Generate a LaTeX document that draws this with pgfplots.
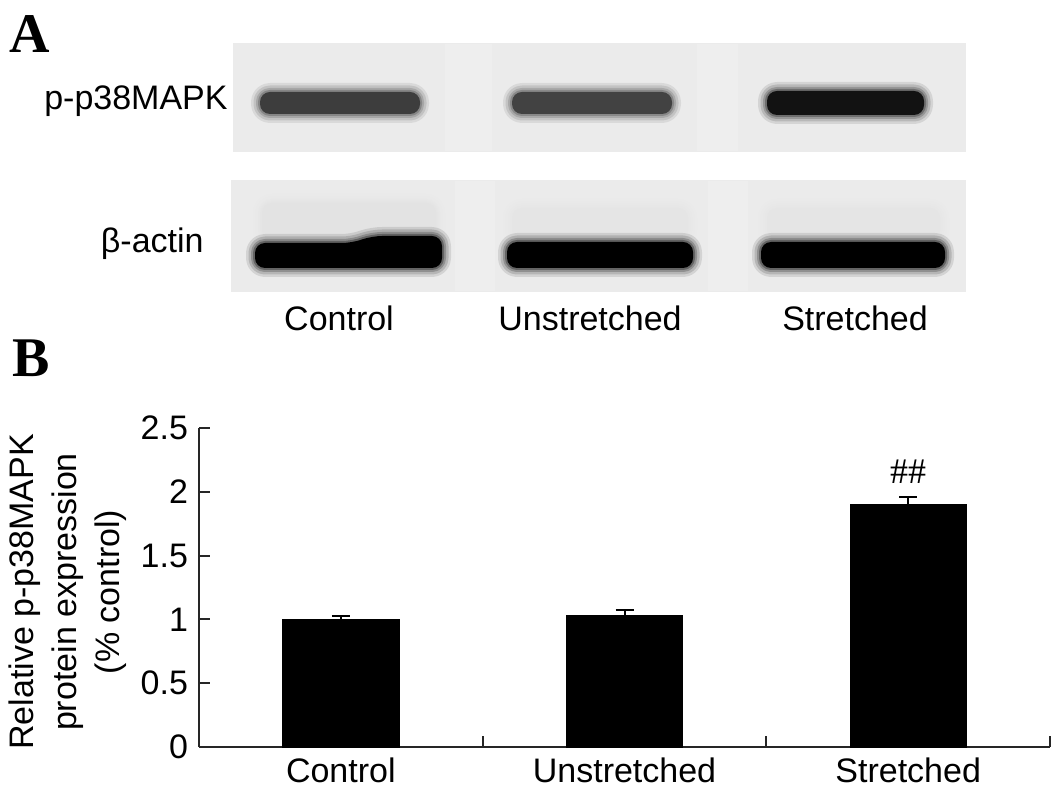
\documentclass[border=0pt]{standalone}
\usepackage{pgfplots}
\pgfplotsset{compat=1.18}
\usepackage{fontspec}
\setmainfont{Liberation Sans}
\newfontfamily\serifb{Liberation Serif}
% soft-edged band: #1 colour, #2 path
\newcommand{\softband}[2]{%
  \draw[#1, opacity=0.10, line width=9pt, rounded corners=5pt, line join=round] #2;
  \draw[#1, opacity=0.14, line width=6.5pt, rounded corners=5pt, line join=round] #2;
  \draw[#1, opacity=0.20, line width=4pt, rounded corners=5pt, line join=round] #2;
  \draw[#1, opacity=0.30, line width=2pt, rounded corners=5pt, line join=round] #2;
  \fill[#1, rounded corners=5pt] #2;}
\newcommand{\rect}[4]{(axis cs:#1,#3) -- (axis cs:#2,#3) -- (axis cs:#2,#4) -- (axis cs:#1,#4) -- cycle}
\begin{document}
\begin{tikzpicture}
\path[use as bounding box] (0,0) rectangle (531.5pt,400.5pt);
% ---- canvas axis (pixel coordinates) for panel A and labels
\begin{axis}[at={(0,0)}, anchor=south west, width=531.5pt, height=400.5pt,
  scale only axis, xmin=0, xmax=1063, ymin=0, ymax=801, y dir=reverse,
  hide axis, clip=false]
% blot backgrounds
\fill[black!8] (axis cs:233,43) rectangle (axis cs:966,152);
\fill[black!8] (axis cs:231,180) rectangle (axis cs:966,292);
\fill[black!6.5] (axis cs:445,44) rectangle (axis cs:492,151);
\fill[black!6.5] (axis cs:697,44) rectangle (axis cs:738,151);
\fill[black!6.5] (axis cs:455,181) rectangle (axis cs:495,291);
\fill[black!6.5] (axis cs:708,181) rectangle (axis cs:748,291);
% faint smear above beta-actin bands
\softband{black!11}{\rect{262}{436}{203}{240}}
\softband{black!10}{\rect{512}{688}{208}{240}}
\softband{black!10}{\rect{767}{940}{208}{240}}
% p-p38MAPK bands
\softband{black!76}{\rect{260}{420}{92}{114}}
\softband{black!74}{\rect{512}{672}{92}{114}}
\softband{black!93}{\rect{767}{924}{91}{115}}
% beta-actin bands
\softband{black}{(axis cs:255,268) -- (axis cs:255,243) -- (axis cs:352,243) -- (axis cs:372,236) -- (axis cs:442,236) -- (axis cs:442,268) -- cycle}
\softband{black}{\rect{507}{693}{242}{268}}
\softband{black}{\rect{761}{945}{242}{268}}
% panel letters
\node[anchor=base west, inner sep=0, font=\serifb\bfseries\fontsize{28}{28}\selectfont] at (axis cs:9,53) {A};
\node[anchor=base west, inner sep=0, font=\serifb\bfseries\fontsize{28}{28}\selectfont] at (axis cs:12,377) {B};
% blot labels
\node[anchor=base east, inner sep=0, font=\fontsize{17}{20}\selectfont] at (axis cs:228,110) {p-p38MAPK};
\node[anchor=base east, inner sep=0, font=\fontsize{17}{20}\selectfont] at (axis cs:204,253) {β-actin};
\node[anchor=base, inner sep=0, font=\fontsize{17}{20}\selectfont] at (axis cs:339,331) {Control};
\node[anchor=base, inner sep=0, font=\fontsize{17}{20}\selectfont] at (axis cs:590,331) {Unstretched};
\node[anchor=base, inner sep=0, font=\fontsize{17}{20}\selectfont] at (axis cs:855,331) {Stretched};
% y label of panel B
\node[rotate=90, align=center, inner sep=0, font=\fontsize{17}{21.5}\selectfont] at (axis cs:68,592)
  {Relative p-p38MAPK\\protein expression\\(\% control)};
\end{axis}
% ---- panel B bar chart
\begin{axis}[at={(99.5pt,27pt)}, anchor=south west, width=425.5pt, height=159.5pt,
  scale only axis, xmin=0, xmax=3, ymin=0, ymax=2.5,
  axis lines=left, axis line style={-, line width=1pt, black!85},
  tick align=inside, major tick length=5.5pt,
  every tick/.style={line width=1pt, black!85},
  ytick={0,0.5,1,1.5,2,2.5}, yticklabels={0,0.5,1,1.5,2,2.5},
  xtick={1,2,3}, xticklabels={},
  extra x ticks={0.5,1.5,2.5},
  extra x tick labels={Control,Unstretched,Stretched},
  extra x tick style={major tick length=0pt},
  ticklabel style={font=\fontsize{17}{20}\selectfont},
  yticklabel style={xshift=-2pt},
  xticklabel style={yshift=-2pt},
  clip=false]
\addplot[ybar, bar width=0.41, fill=black, draw=black,
  error bars/.cd, y dir=plus, y explicit,
  error bar style={line width=1pt, black},
  error mark options={rotate=90, line width=1pt, mark size=4.5pt, black}]
  coordinates {(0.5,1.00) +- (0,0.03) (1.5,1.03) +- (0,0.04) (2.5,1.90) +- (0,0.06)};
\node[font=\serifb\fontsize{18}{20}\selectfont] at (axis cs:2.5,2.155) {\#\#};
\end{axis}
\end{tikzpicture}
\end{document}
